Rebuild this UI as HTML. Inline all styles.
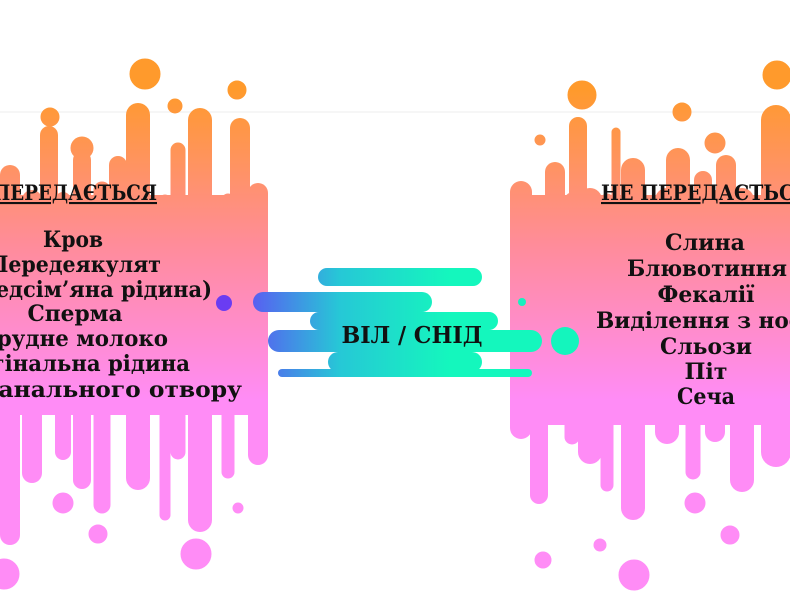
<!DOCTYPE html>
<html><head><meta charset="utf-8"><style>
html,body{margin:0;padding:0;background:#fff;}
svg{display:block;}
text{font-family:"DejaVu Serif","Liberation Serif",serif;font-weight:bold;fill:#111;}
</style></head><body>
<svg width="790" height="600" viewBox="0 0 790 600" xmlns="http://www.w3.org/2000/svg">
<defs>
<linearGradient id="g" gradientUnits="userSpaceOnUse" x1="0" y1="90" x2="0" y2="400">
<stop offset="0" stop-color="#ff9a2c"/><stop offset="0.5" stop-color="#ff8c9a"/><stop offset="1" stop-color="#ff8cf6"/>
</linearGradient>
<linearGradient id="c" gradientUnits="userSpaceOnUse" x1="250" y1="0" x2="450" y2="0">
<stop offset="0" stop-color="#5a5cf2"/><stop offset="0.45" stop-color="#26c8d6"/><stop offset="1" stop-color="#14f7bd"/>
</linearGradient>
</defs>
<line x1="0" y1="112" x2="790" y2="112" stroke="#eee" stroke-width="1"/>
<g fill="url(#g)" stroke="url(#g)" stroke-linecap="round">
<rect x="0" y="195" width="268" height="220" stroke="none"/>
<line x1="10" y1="175" x2="10" y2="535" stroke-width="20"/>
<line x1="32" y1="200" x2="32" y2="473" stroke-width="20"/>
<line x1="49" y1="135" x2="49" y2="300" stroke-width="18"/>
<line x1="63" y1="200" x2="63" y2="452" stroke-width="16"/>
<line x1="82" y1="160" x2="82" y2="480" stroke-width="18"/>
<line x1="102" y1="190" x2="102" y2="505" stroke-width="17"/>
<line x1="118" y1="165" x2="118" y2="300" stroke-width="18"/>
<line x1="138" y1="115" x2="138" y2="478" stroke-width="24"/>
<line x1="165" y1="200" x2="165" y2="515" stroke-width="11"/>
<line x1="178" y1="150" x2="178" y2="452" stroke-width="15"/>
<line x1="200" y1="120" x2="200" y2="520" stroke-width="24"/>
<line x1="228" y1="200" x2="228" y2="472" stroke-width="13"/>
<line x1="240" y1="128" x2="240" y2="300" stroke-width="20"/>
<line x1="258" y1="193" x2="258" y2="455" stroke-width="20"/>
<circle cx="145" cy="74" r="15"/><circle cx="237" cy="90" r="9"/><circle cx="175" cy="106" r="7"/>
<circle cx="50" cy="117" r="9"/><circle cx="82" cy="148" r="11"/>
<circle cx="63" cy="503" r="10"/><circle cx="98" cy="534" r="9"/><circle cx="196" cy="554" r="15"/>
<circle cx="238" cy="508" r="5"/><circle cx="4" cy="574" r="15"/>
<rect x="510" y="195" width="280" height="230" stroke="none"/>
<line x1="521" y1="192" x2="521" y2="428" stroke-width="22"/>
<line x1="539" y1="220" x2="539" y2="495" stroke-width="18"/>
<line x1="555" y1="172" x2="555" y2="400" stroke-width="20"/>
<line x1="572" y1="200" x2="572" y2="437" stroke-width="15"/>
<line x1="578" y1="126" x2="578" y2="300" stroke-width="18"/>
<line x1="590" y1="200" x2="590" y2="452" stroke-width="24"/>
<line x1="607" y1="200" x2="607" y2="485" stroke-width="13"/>
<line x1="616" y1="132" x2="616" y2="300" stroke-width="9"/>
<line x1="633" y1="170" x2="633" y2="508" stroke-width="24"/>
<line x1="667" y1="200" x2="667" y2="432" stroke-width="24"/>
<line x1="678" y1="160" x2="678" y2="300" stroke-width="24"/>
<line x1="693" y1="200" x2="693" y2="472" stroke-width="15"/>
<line x1="703" y1="180" x2="703" y2="300" stroke-width="18"/>
<line x1="715" y1="200" x2="715" y2="432" stroke-width="20"/>
<line x1="726" y1="165" x2="726" y2="300" stroke-width="20"/>
<line x1="742" y1="200" x2="742" y2="480" stroke-width="24"/>
<line x1="776" y1="120" x2="776" y2="452" stroke-width="30"/>
<circle cx="582" cy="95" r="14"/><circle cx="777" cy="75" r="14"/><circle cx="682" cy="112" r="9"/>
<circle cx="540" cy="140" r="5"/><circle cx="715" cy="143" r="10"/>
<circle cx="695" cy="503" r="10"/><circle cx="730" cy="535" r="9"/><circle cx="543" cy="560" r="8"/>
<circle cx="634" cy="575" r="15"/><circle cx="600" cy="545" r="6"/>
</g>
<g stroke="url(#c)" stroke-linecap="round">
<line x1="327" y1="277" x2="473" y2="277" stroke-width="18"/>
<line x1="263" y1="302" x2="422" y2="302" stroke-width="20"/>
<line x1="319" y1="321" x2="489" y2="321" stroke-width="18"/>
<line x1="279" y1="341" x2="531" y2="341" stroke-width="22"/>
<line x1="338" y1="362" x2="472" y2="362" stroke-width="20"/>
<line x1="282" y1="373" x2="528" y2="373" stroke-width="8"/>
</g>
<circle cx="224" cy="303" r="8" fill="#6a3cf2"/>
<circle cx="522" cy="302" r="4" fill="#16f0bf"/>
<circle cx="565" cy="341" r="14" fill="#14f5bd"/>
<g text-anchor="middle">
<text x="412" y="343" font-size="23" textLength="141" lengthAdjust="spacingAndGlyphs">ВІЛ / СНІД</text>
<text x="75" y="200" font-size="21" text-decoration="underline" textLength="164" lengthAdjust="spacingAndGlyphs">ПЕРЕДАЄТЬСЯ</text>
<text x="73" y="247" font-size="22" textLength="60" lengthAdjust="spacingAndGlyphs">Кров</text>
<text x="75" y="272" font-size="22" textLength="172" lengthAdjust="spacingAndGlyphs">Передеякулят</text>
<text x="75" y="297" font-size="22" textLength="274" lengthAdjust="spacingAndGlyphs">(Передсім’яна рідина)</text>
<text x="75" y="321" font-size="22" textLength="95" lengthAdjust="spacingAndGlyphs">Сперма</text>
<text x="75" y="346" font-size="22" textLength="186" lengthAdjust="spacingAndGlyphs">Грудне молоко</text>
<text x="75" y="371" font-size="22" textLength="230" lengthAdjust="spacingAndGlyphs">Вагінальна рідина</text>
<text x="75" y="397" font-size="22" textLength="334" lengthAdjust="spacingAndGlyphs">Слиза анального отвору</text>
<text x="706" y="200" font-size="21" text-decoration="underline" textLength="210" lengthAdjust="spacingAndGlyphs">НЕ ПЕРЕДАЄТЬСЯ</text>
<text x="705" y="250" font-size="22" textLength="80" lengthAdjust="spacingAndGlyphs">Слина</text>
<text x="707" y="276" font-size="22" textLength="160" lengthAdjust="spacingAndGlyphs">Блювотиння</text>
<text x="706" y="302" font-size="22" textLength="97" lengthAdjust="spacingAndGlyphs">Фекалії</text>
<text x="706" y="328" font-size="22" textLength="220" lengthAdjust="spacingAndGlyphs">Виділення з носа</text>
<text x="706" y="354" font-size="22" textLength="92" lengthAdjust="spacingAndGlyphs">Сльози</text>
<text x="706" y="379" font-size="22" textLength="43" lengthAdjust="spacingAndGlyphs">Піт</text>
<text x="706" y="404" font-size="22" textLength="58" lengthAdjust="spacingAndGlyphs">Сеча</text>
</g>
</svg>
</body></html>
